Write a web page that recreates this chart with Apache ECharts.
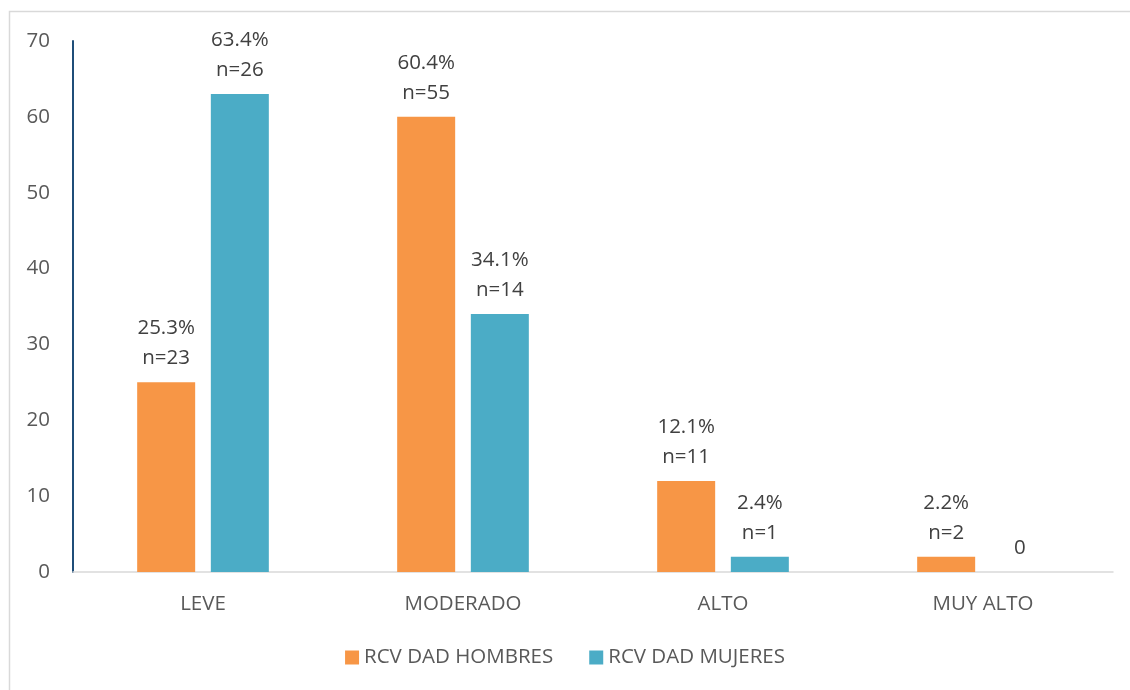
<!DOCTYPE html>
<html>
<head>
<meta charset="utf-8">
<script src="https://cdn.jsdelivr.net/npm/echarts@6/dist/echarts.min.js"></script>
<style>
  html, body { margin: 0; padding: 0; background: #fff; }
  #main { width: 1130px; height: 690px; }
</style>
</head>
<body>
<div id="main"></div>
<script>
// datos del grafico
var categorias = ['LEVE', 'MODERADO', 'ALTO', 'MUY ALTO'];
var hombres = [25, 60, 12, 2];
var mujeres = [63, 34, 2, 0];
var etiquetasHombres = ['25.3%\nn=23', '60.4%\nn=55', '12.1%\nn=11', '2.2%\nn=2'];
var etiquetasMujeres = ['63.4%\nn=26', '34.1%\nn=14', '2.4%\nn=1', '0'];
var ticksY = [0, 10, 20, 30, 40, 50, 60, 70];

var fuente = '"Open Sans", "Liberation Sans", sans-serif';

function LoadChart() {
    var myChart = echarts.init(document.getElementById('main'));

    var option = {
        animation: false,
        textStyle: { fontFamily: fuente },
        graphic: [{
            type: 'rect',
            shape: { x: 9.5, y: 11.5, width: 1130, height: 690 },
            style: { fill: 'none', stroke: '#d9d9d9', lineWidth: 1.5 },
            silent: true
        }],
        grid: { left: 73, right: 17, top: 41, bottom: 118, containLabel: false },
        legend: {
            bottom: 17,
            left: 'center',
            itemWidth: 14,
            itemHeight: 14,
            itemGap: 36,
            icon: 'rect',
            textStyle: { fontSize: 20.5, color: '#595959', fontFamily: fuente },
            data: ['RCV DAD HOMBRES', 'RCV DAD MUJERES']
        },
        xAxis: {
            type: 'category',
            data: categorias,
            axisLine: { lineStyle: { color: '#d9d9d9', width: 1.5 } },
            axisTick: { show: false },
            axisLabel: { color: '#595959', fontSize: 20.5, margin: 22, fontFamily: fuente }
        },
        yAxis: {
            type: 'value',
            min: ticksY[0],
            max: ticksY[ticksY.length - 1],
            interval: 10,
            axisLine: { show: true, lineStyle: { color: '#1f4e79', width: 2 } },
            axisTick: { show: false },
            splitLine: { show: false },
            axisLabel: { color: '#595959', fontSize: 20.5, margin: 23, fontFamily: fuente }
        },
        series: [{
            name: 'RCV DAD HOMBRES',
            type: 'bar',
            data: hombres,
            barWidth: 58,
            barGap: '27%',
            itemStyle: { color: '#f79646' },
            label: {
                show: true,
                position: 'top',
                distance: 9,
                lineHeight: 30,
                fontSize: 20.5,
                color: '#404040',
                fontFamily: fuente,
                formatter: function (p) { return etiquetasHombres[p.dataIndex]; }
            }
        }, {
            name: 'RCV DAD MUJERES',
            type: 'bar',
            data: mujeres,
            barWidth: 58,
            itemStyle: { color: '#4bacc6' },
            label: {
                show: true,
                position: 'top',
                distance: 9,
                lineHeight: 30,
                fontSize: 20.5,
                color: '#404040',
                fontFamily: fuente,
                formatter: function (p) { return etiquetasMujeres[p.dataIndex]; }
            }
        }]
    };

    myChart.setOption(option, true);
}

LoadChart();
</script>
</body>
</html>
